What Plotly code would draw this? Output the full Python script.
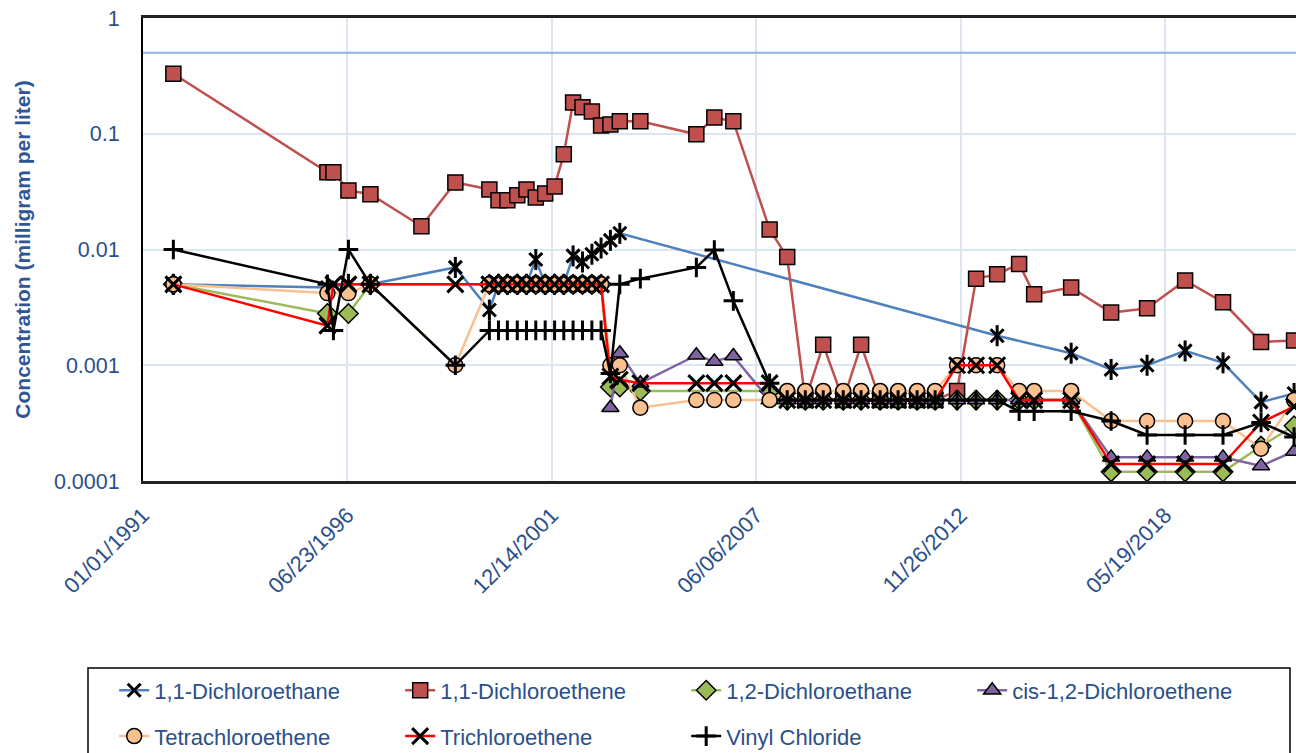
import plotly.graph_objects as go

# Sampling dates shared by all analytes (None = not analysed / not reported)
sample_dates = [
    "1991-10-25", "1995-12-10", "1996-02-07", "1996-07-03", "1997-02-03",
    "1998-06-17", "1999-05-15",
    "2000-04-12", "2000-07-10", "2000-10-05", "2001-01-10", "2001-04-10",
    "2001-07-10", "2001-10-10", "2002-01-10", "2002-04-10", "2002-07-10",
    "2002-10-10", "2003-01-10", "2003-04-10", "2003-07-10", "2003-10-10",
    "2004-04-28", "2005-10-28", "2006-04-22", "2006-10-25", "2007-10-15",
    "2008-04-04", "2008-09-28", "2009-03-22", "2009-10-04", "2010-03-28",
    "2010-09-30", "2011-03-25", "2011-09-27", "2012-03-21",
    "2012-10-22", "2013-04-26", "2013-11-18", "2014-06-21", "2014-11-15",
    "2015-11-12", "2016-12-07", "2017-11-24", "2018-12-01", "2019-12-07",
    "2020-12-13", "2021-11-01",
]

dichloroethane_11 = [
    0.005, 0.0047, None, 0.005, 0.005, None, 0.007,
    0.003, 0.005, 0.005, 0.005, 0.005, 0.0082, 0.005, 0.005, 0.005, 0.0088,
    0.0078, 0.0091, 0.0103, 0.012, 0.0138,
    None, None, None, None, None,
    None, None, None, None, None, None, None, None, None,
    None, None, 0.0018, None, None, 0.00127, 0.00092, 0.001, 0.00133, 0.00105,
    0.00048, 0.00057,
]

dichloroethene_11 = [
    0.33, 0.0465, 0.0465, 0.0324, 0.030, 0.0159, 0.038,
    0.033, 0.0266, 0.0266, 0.0294, 0.033, 0.0282, 0.0305, 0.0351, 0.0664, 0.186,
    0.169, 0.156, 0.118, 0.12, 0.128,
    0.128, 0.099, 0.138, 0.128, 0.0149,
    0.0086, 0.0005, 0.0015, 0.0005, 0.0015, 0.0005, 0.0005, 0.0005, 0.0005,
    0.0006, 0.0056, 0.0061, 0.0075, 0.0041, 0.0047, 0.00285, 0.0031, 0.0054, 0.0035,
    0.00159, 0.00164,
]

dichloroethane_12 = [
    0.005, 0.0028, None, 0.0028, 0.005, None, None,
    0.005, 0.005, 0.005, 0.005, 0.005, 0.005, 0.005, 0.005, 0.005, 0.005,
    0.005, 0.005, 0.005, 0.00065, 0.00065,
    0.0006, None, None, None, 0.0006,
    0.0005, 0.0005, 0.0005, 0.0005, 0.0005, 0.0005, 0.0005, 0.0005, 0.0005,
    0.0005, 0.0005, 0.0005, 0.0005, 0.0005, 0.0005, 0.00012, 0.00012, 0.00012, 0.00012,
    0.0002, 0.0003,
]

cis_dichloroethene_12 = [
    None, None, None, None, None, None, None,
    None, None, None, None, None, None, None, None, None, None,
    None, None, None, 0.00043, 0.00127,
    0.0007, 0.00122, 0.00108, 0.0012, 0.0005,
    0.0005, 0.0005, 0.0005, 0.0005, 0.0005, 0.0005, 0.0005, 0.0005, 0.0005,
    0.0005, 0.0005, 0.0005, 0.0005, 0.0005, 0.0005, 0.00016, 0.00016, 0.00016, 0.00016,
    0.000135, 0.00018,
]

tetrachloroethene = [
    0.005, 0.0042, None, 0.0042, 0.005, None, 0.001,
    0.005, 0.005, 0.005, 0.005, 0.005, 0.005, 0.005, 0.005, 0.005, 0.005,
    0.005, 0.005, 0.005, 0.001, 0.001,
    0.00043, 0.0005, 0.0005, 0.0005, 0.0005,
    0.0006, 0.0006, 0.0006, 0.0006, 0.0006, 0.0006, 0.0006, 0.0006, 0.0006,
    0.001, 0.001, 0.001, 0.0006, 0.0006, 0.0006, 0.00033, 0.00033, 0.00033, 0.00033,
    0.00019, 0.0005,
]

trichloroethene = [
    0.005, 0.0022, 0.005, 0.005, 0.005, None, 0.005,
    0.005, 0.005, 0.005, 0.005, 0.005, 0.005, 0.005, 0.005, 0.005, 0.005,
    0.005, 0.005, 0.005, 0.0008, 0.00075,
    0.0007, 0.0007, 0.0007, 0.0007, 0.0007,
    0.0005, 0.0005, 0.0005, 0.0005, 0.0005, 0.0005, 0.0005, 0.0005, 0.0005,
    0.001, 0.001, 0.001, 0.0005, 0.0005, 0.0005, 0.00014, 0.00014, 0.00014, 0.00014,
    0.00032, 0.00044,
]

vinyl_chloride = [
    0.01, 0.005, 0.002, 0.01, 0.005, None, 0.001,
    0.002, 0.002, 0.002, 0.002, 0.002, 0.002, 0.002, 0.002, 0.002, 0.002,
    0.002, 0.002, 0.002, 0.00085, 0.005,
    0.0056, 0.007, 0.0099, 0.0036, 0.0007,
    0.0005, 0.0005, 0.0005, 0.0005, 0.0005, 0.0005, 0.0005, 0.0005, 0.0005,
    0.0005, 0.0005, 0.0005, 0.0004, 0.0004, 0.0004, 0.00033, 0.00025, 0.00025, 0.00025,
    0.00032, 0.00024,
]

reference_level = 0.5
x_start, x_end = "1991-01-01", "2021-11-20"
y_tick_vals = [0.0001, 0.001, 0.01, 0.1, 1]
y_tick_text = ["0.0001", "0.001", "0.01", "0.1", "1"]

TEXT = "#2B4F8A"
FONT = "Liberation Sans, Arial, sans-serif"

fig = go.Figure()

# horizontal reference level
fig.add_trace(go.Scatter(
    x=[x_start, x_end], y=[reference_level, reference_level], mode="lines",
    line=dict(color="#8DB3E2", width=2), showlegend=False, hoverinfo="skip"))


def series(name, values, line_color, symbol, size, fill, legend, outline=1.5):
    open_marker = symbol.endswith("open")
    fig.add_trace(go.Scatter(
        x=sample_dates, y=values, name=name, mode="lines+markers",
        connectgaps=True, legend=legend,
        line=dict(color=line_color, width=2.5),
        marker=dict(symbol=symbol, size=size,
                    color="black" if open_marker else fill,
                    line=dict(color="black", width=3 if open_marker else outline)),
    ))


series("1,1-Dichloroethane", dichloroethane_11, "#4F81BD", "x-thin-open", 13, None, "legend")
# vertical stroke completing the star marker
fig.add_trace(go.Scatter(
    x=sample_dates, y=dichloroethane_11, mode="markers", showlegend=False,
    marker=dict(symbol="line-ns-open", size=15, color="black",
                line=dict(color="black", width=3)), hoverinfo="skip"))
series("1,1-Dichloroethene", dichloroethene_11, "#C0504D", "square", 15, "#C0504D", "legend")
series("1,2-Dichloroethane", dichloroethane_12, "#9BBB59", "diamond", 15, "#9BBB59", "legend")
series("cis-1,2-Dichloroethene", cis_dichloroethene_12, "#8064A2", "triangle-up", 15, "#8064A2", "legend")
series("Tetrachloroethene", tetrachloroethene, "#FAC090", "circle", 15, "#FAC090", "legend2")
series("Trichloroethene", trichloroethene, "#FF0000", "x-thin-open", 16, None, "legend2")
series("Vinyl Chloride", vinyl_chloride, "#000000", "cross-thin-open", 14, None, "legend2")

# two legend rows placed in figure (container) coordinates
legend_common = dict(
    orientation="h", xref="container", yref="container",
    x=0.0881, xanchor="left", yanchor="middle",
    font=dict(family=FONT, size=22, color=TEXT),
    bgcolor="rgba(0,0,0,0)", borderwidth=0,
    entrywidth=241, entrywidthmode="pixels", itemclick=False,
)

fig.update_layout(
    width=1296, height=753,
    margin=dict(l=143, r=0, t=18, b=272),
    paper_bgcolor="white", plot_bgcolor="white",
    font=dict(family=FONT, color=TEXT),
    xaxis=dict(
        type="date", range=[x_start, x_end],
        tick0="1991-01-01", dtick=2000 * 86400000, tickformat="%m/%d/%Y",
        tickangle=-45, tickfont=dict(size=22, color=TEXT),
        ticks="", ticklabelstandoff=10,
        showgrid=True, gridcolor="#DCE6F2", gridwidth=2,
        showline=True, linecolor="#222222", linewidth=2.5, mirror=True,
        zeroline=False,
    ),
    yaxis=dict(
        type="log", range=[-4, 0],
        tickvals=y_tick_vals, ticktext=y_tick_text,
        tickfont=dict(size=21.5, color=TEXT), ticks="", ticklabelstandoff=17,
        showgrid=True, gridcolor="#DCE6F2", gridwidth=2,
        showline=True, linecolor="black", linewidth=2, mirror=True,
        title=dict(text="<b>Concentration (milligram per liter)</b>",
                   font=dict(size=21, color="#2F5597"), standoff=18),
        automargin=False,
    ),
    legend=dict(y=0.0830, **legend_common),
    legend2=dict(y=0.0222, **legend_common),
    shapes=[dict(type="rect", xref="paper", yref="paper",
                 x0=-0.0477, x1=0.9948, y0=-0.607, y1=-0.4039,
                 line=dict(color="black", width=1.5), fillcolor="rgba(0,0,0,0)",
                 layer="below")],
)

fig.write_html("out.html")
